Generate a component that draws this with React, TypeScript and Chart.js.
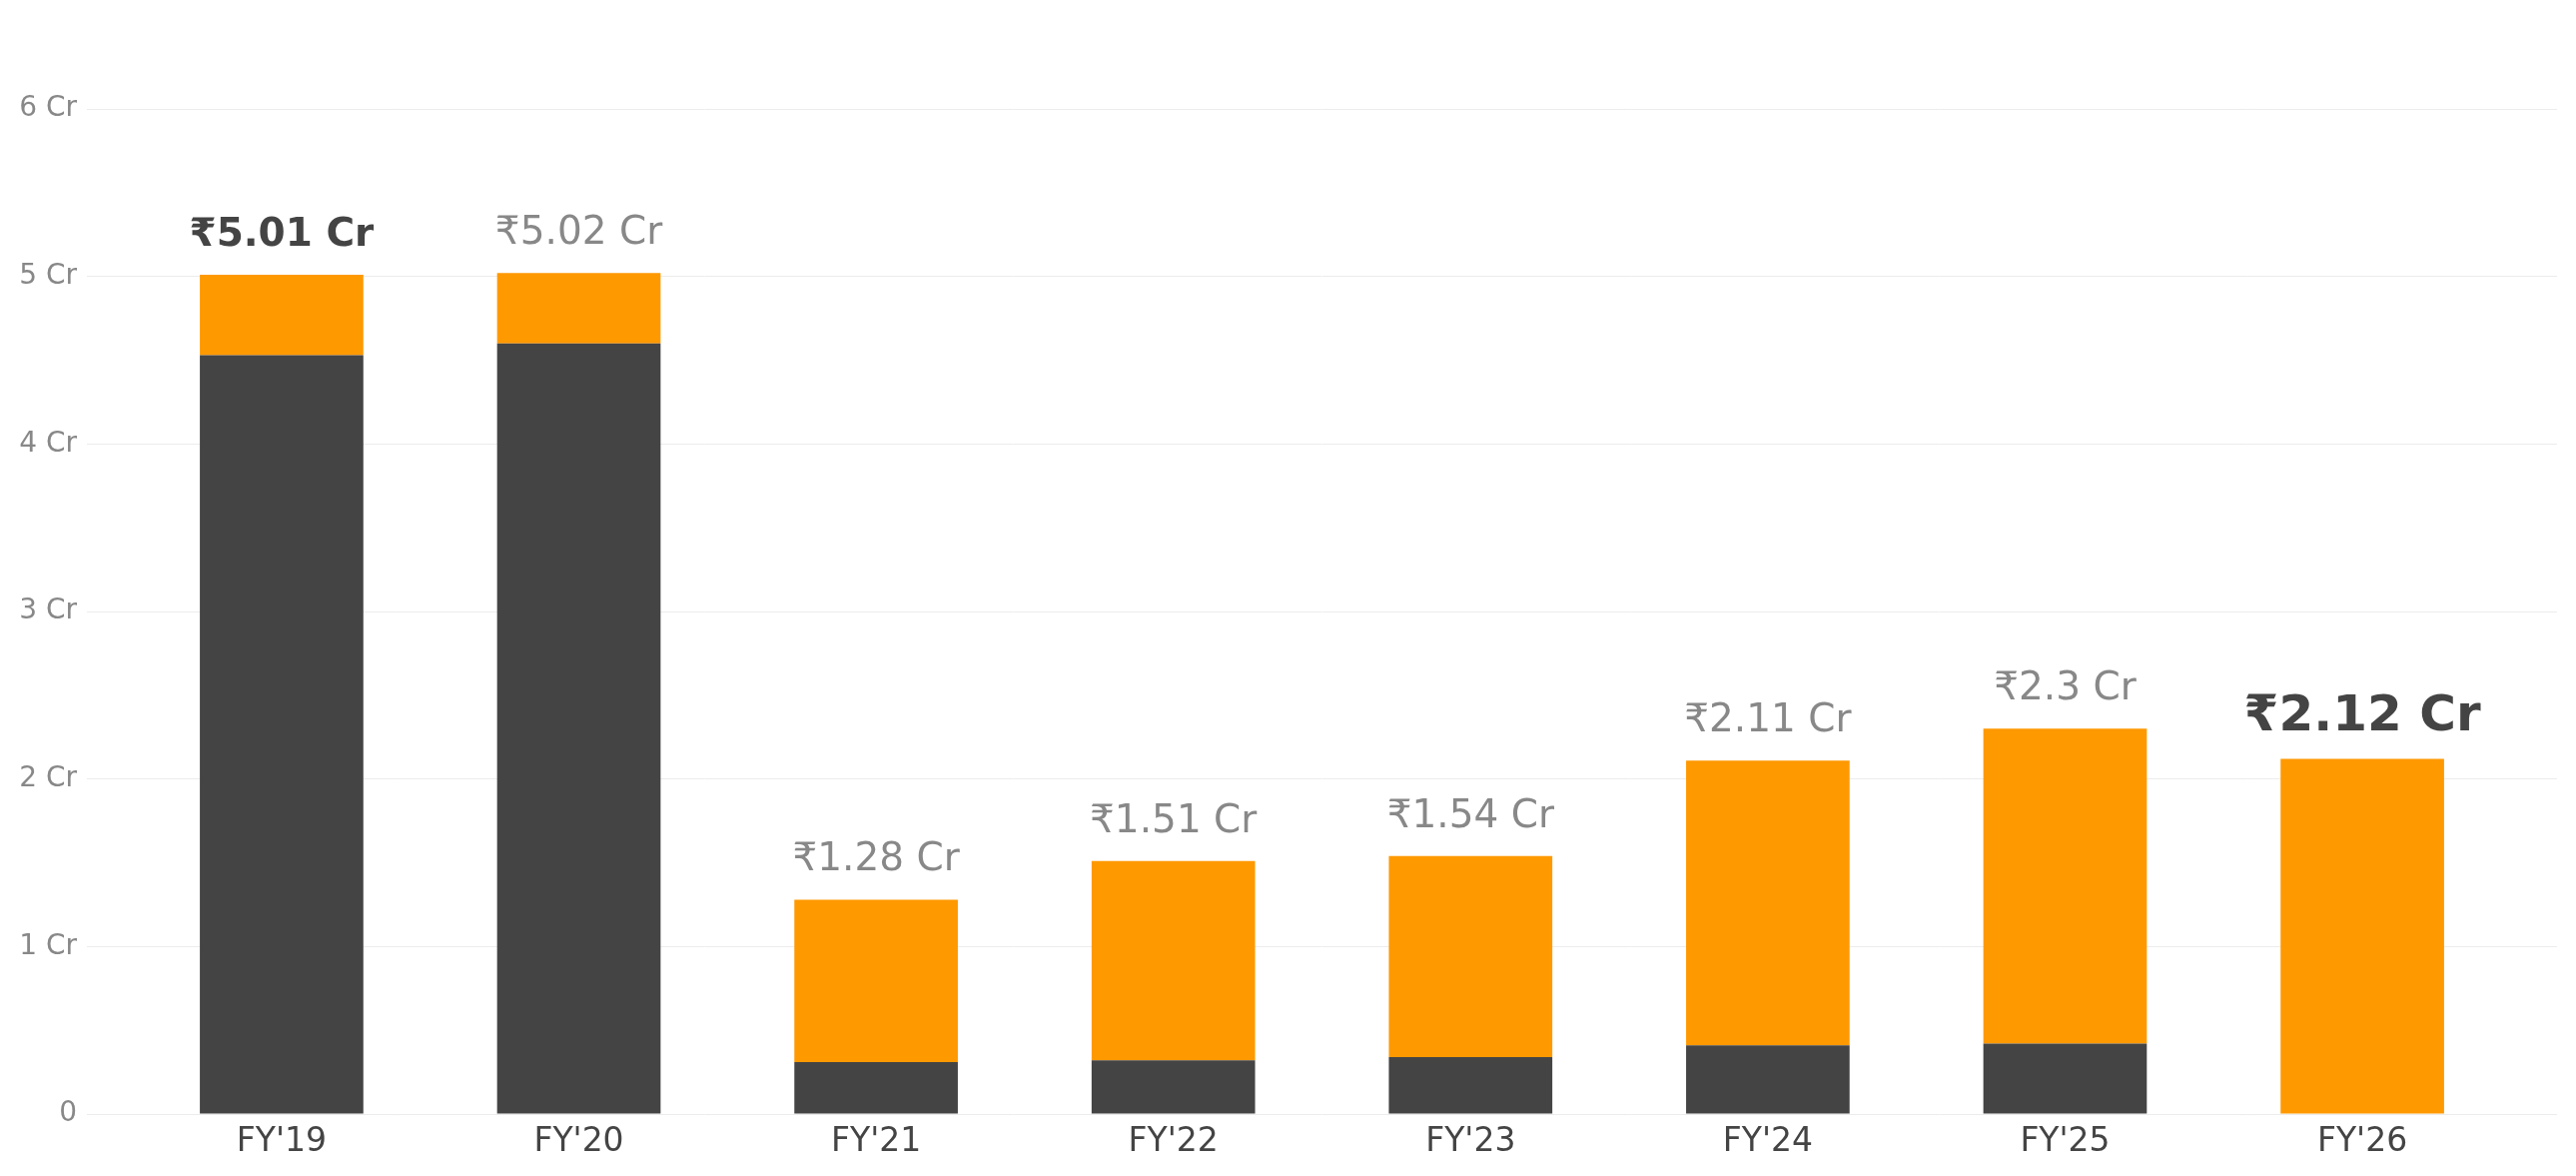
import React, { useEffect, useRef } from 'react';
import { Chart, registerables } from 'chart.js';

Chart.register(...registerables);

const categories = ["FY'19", "FY'20", "FY'21", "FY'22", "FY'23", "FY'24", "FY'25", "FY'26"];
const darkValues = [4.53, 4.6, 0.31, 0.32, 0.34, 0.41, 0.42, 0];
const orangeValues = [0.48, 0.42, 0.97, 1.19, 1.2, 1.7, 1.88, 2.12];
const totalValues = [5.01, 5.02, 1.28, 1.51, 1.54, 2.11, 2.3, 2.12];
const yTickMax = 6;

const FONT = "'DejaVu Sans', sans-serif";
const DARK = '#444444';
const ORANGE = '#FF9900';
const GRAY = '#888888';

export default function App() {
  const ref = useRef<HTMLCanvasElement>(null);

  useEffect(() => {
    if (!ref.current) return;
    const totalsPlugin = {
      id: 'totals',
      afterDatasetsDraw(chart: any) {
        const { ctx } = chart;
        const x = chart.scales.x;
        const y = chart.scales.y;
        ctx.save();
        ctx.textAlign = 'center';
        ctx.textBaseline = 'alphabetic';
        totalValues.forEach((t, i) => {
          const px = x.getPixelForValue(i);
          const py = y.getPixelForValue(t);
          let font = `normal 39px ${FONT}`;
          let color = GRAY;
          if (i === 0) {
            font = `bold 39px ${FONT}`;
            color = DARK;
          }
          if (i === categories.length - 1) {
            font = `bold 50px ${FONT}`;
            color = DARK;
          }
          ctx.font = font;
          ctx.fillStyle = color;
          ctx.fillText(`₹${t} Cr`, px, py - 29);
        });
        ctx.restore();
      },
    };

    const chart = new Chart(ref.current, {
      type: 'bar',
      data: {
        datasets: [
          {
            label: 'dark',
            data: darkValues.map((v, i) => ({ x: i, y: v })),
            backgroundColor: DARK,
            categoryPercentage: 1,
            barPercentage: 0.55,
          },
          {
            label: 'orange',
            data: orangeValues.map((v, i) => ({ x: i, y: v })),
            backgroundColor: ORANGE,
            categoryPercentage: 1,
            barPercentage: 0.55,
          },
        ],
      },
      options: {
        responsive: false,
        animation: false,
        layout: { padding: { top: 101, right: 11, left: 0, bottom: 0 } },
        plugins: { legend: { display: false }, tooltip: { enabled: false } },
        scales: {
          x: {
            type: 'linear',
            stacked: true,
            offset: false,
            min: -0.655,
            max: categories.length - 1 + 0.655,
            grid: { display: false },
            border: { display: false },
            ticks: {
              stepSize: 1,
              includeBounds: false,
              autoSkip: false,
              maxRotation: 0,
              color: DARK,
              font: { family: FONT, size: 33 },
              padding: 1,
              callback: (v: any) => categories[Math.round(v)] ?? '',
            },
            afterFit: (s: any) => {
              s.height = 54;
            },
          },
          y: {
            stacked: true,
            min: 0,
            max: yTickMax,
            ticks: {
              stepSize: 1,
              color: GRAY,
              font: { family: FONT, size: 28 },
              padding: 10,
              callback: (v: any) => (v === 0 ? '0' : `${v} Cr`),
            },
            grid: { color: '#ececec', lineWidth: 1, drawTicks: false },
            border: { display: false },
            afterFit: (s: any) => {
              s.width = 79;
            },
          },
        },
      },
      plugins: [totalsPlugin],
    } as any);

    return () => chart.destroy();
  }, []);

  return (
    <div style={{ width: 2563, height: 1161 }}>
      <canvas ref={ref} width={2563} height={1161} style={{ display: 'block' }} />
    </div>
  );
}
